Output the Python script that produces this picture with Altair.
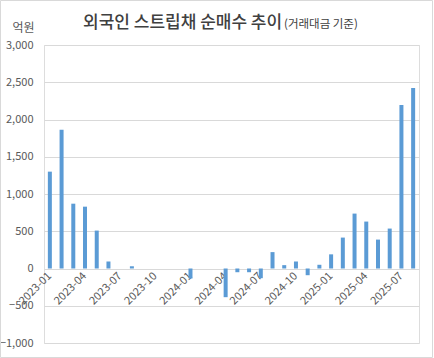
import altair as alt
import pandas as pd

months = [f"{y}-{m:02d}" for y in (2023, 2024, 2025) for m in range(1, 13)][:32]
values = [1300, 1862, 870, 830, 509, 94, 0, 30, 0, 0, 0, 0,
          -134, 0, 0, -385, -50, -50, -130, 220, 45, 94, -90, 50,
          190, 415, 737, 630, 388, 536, 2196, 2424]
tick_months = [m for m in months if m[-2:] in ("01", "04", "07", "10")]
y_ticks = list(range(-1000, 3001, 500))
title_main = "외국인 스트립채 순매수 추이"
title_sub = "(거래대금 기준)"
unit = "억원"

df = pd.DataFrame({"month": months, "value": values})
FONT = "Noto Sans CJK KR"
GRAY = "#595959"

bars = alt.Chart(df).mark_bar(size=4, color="#5b9bd5").encode(
    x=alt.X("month:O", sort=months,
            scale=alt.Scale(paddingInner=0.0, paddingOuter=0.0),
            axis=alt.Axis(values=tick_months, labelAngle=-45, labelAlign="right",
                          labelBaseline="middle", offset=-74, domain=False,
                          ticks=False, labelPadding=5, labelFont=FONT,
                          labelFontSize=11, labelColor=GRAY, title=None,
                          grid=False)),
    y=alt.Y("value:Q", scale=alt.Scale(domain=[-1000, 3000], nice=False),
            axis=alt.Axis(values=y_ticks, format=",.0f", domain=False, ticks=False,
                          gridColor="#d9d9d9", labelFont=FONT, labelFontSize=11,
                          labelColor=GRAY, labelPadding=11, title=unit,
                          titleAngle=0, titleX=-21, titleY=-18,
                          titleAlign="center", titleBaseline="middle",
                          titleFont=FONT, titleFontSize=12,
                          titleFontWeight="normal", titleColor=GRAY)),
)

t_main = alt.Chart(pd.DataFrame({"t": [title_main]})).mark_text(
    font=FONT, fontSize=17, fontWeight=500, color="#404040",
    align="left", baseline="middle").encode(
    text="t:N", x=alt.value(39), y=alt.value(-22))

t_sub = alt.Chart(pd.DataFrame({"t": [title_sub]})).mark_text(
    font=FONT, fontSize=11.5, color="#404040",
    align="left", baseline="middle").encode(
    text="t:N", x=alt.value(240), y=alt.value(-20))

border = alt.Chart(pd.DataFrame({"t": [0]})).mark_rect(
    fill=None, stroke="#d9d9d9", strokeWidth=1).encode(
    x=alt.value(-43.5), x2=alt.value(388.5), y=alt.value(-44.5), y2=alt.value(312.5))

chart = alt.layer(bars, t_main, t_sub, border).properties(
    width=375, height=298,
    padding={"left": 44, "top": 45, "right": 15, "bottom": 15},
    autosize=alt.AutoSizeParams(type="none"),
).configure_view(stroke=None).configure(background="white")

chart.save("out.html", embed_options={"renderer": "svg", "actions": False})
